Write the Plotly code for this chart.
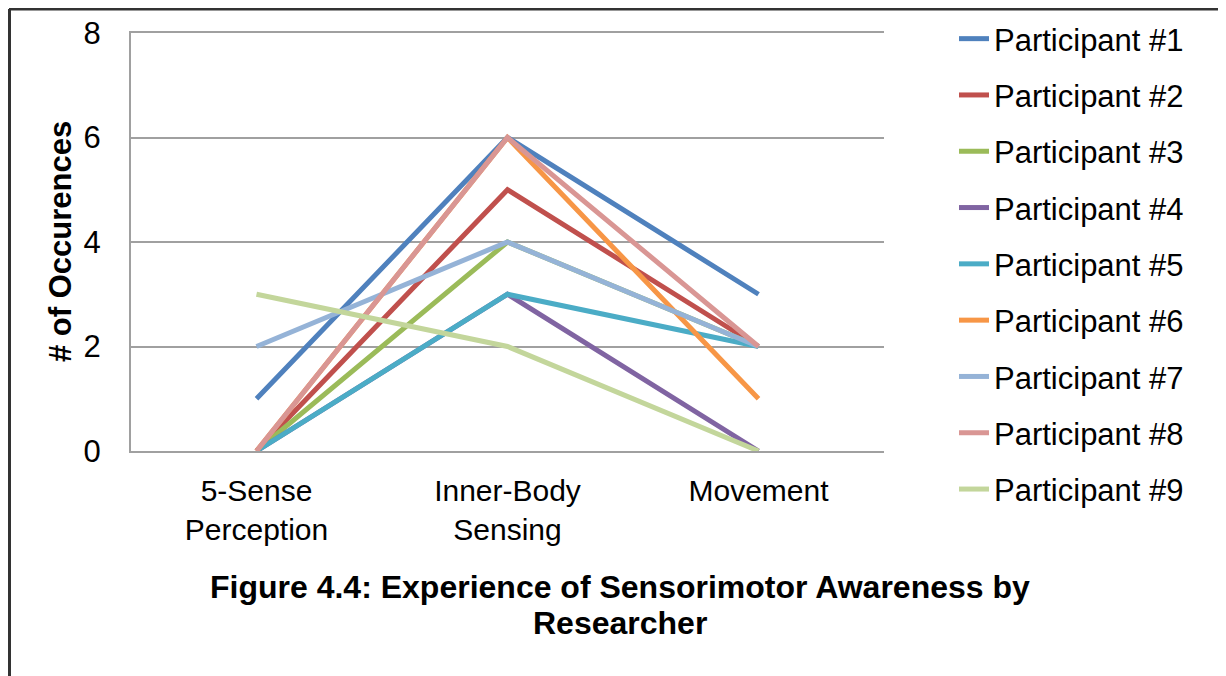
import plotly.graph_objects as go

categories = ["5-Sense<br>Perception", "Inner-Body<br>Sensing", "Movement"]
participants = [f"Participant #{i}" for i in range(1, 10)]

p1 = [1, 6, 3]
p2 = [0, 5, 2]
p3 = [0, 4, 2]
p4 = [0, 3, 0]
p5 = [0, 3, 2]
p6 = [0, 6, 1]
p7 = [2, 4, 2]
p8 = [0, 6, 2]
p9 = [3, 2, 0]
series = [p1, p2, p3, p4, p5, p6, p7, p8, p9]

colors = ["#4F81BD", "#C0504D", "#9BBB59", "#8064A2", "#4BACC6",
          "#F79646", "#95B3D7", "#D99694", "#C3D69B"]

FONT = "Liberation Sans, Arial, sans-serif"

# the page puts an 8px body margin round the figure; targets below are screen pixels
OFF = 8
W, H = 1226, 676
# plot area on screen
SL, SR, ST, SB = 131, 884, 33, 451
L, R, T, B = SL - OFF, SR - OFF, ST - OFF, SB - OFF


def px_x(x):
    return (x - OFF - L) / (R - L)


def px_y(y):
    return (B - (y - OFF)) / (B - T)


fig = go.Figure()
for name, vals, col in zip(participants, series, colors):
    fig.add_trace(go.Scatter(
        x=categories, y=vals, name=name, mode="lines",
        line=dict(color=col, width=5),
        legendgroup=name,
    ))

fig.update_layout(
    width=W, height=H,
    margin=dict(l=L, r=W - R, t=T, b=H - B, autoexpand=False),
    plot_bgcolor="white", paper_bgcolor="white",
    font=dict(family=FONT, size=31, color="black"),
    showlegend=True,
    legend=dict(
        x=px_x(954), y=px_y(12), xanchor="left", yanchor="top",
        font=dict(size=31), tracegroupgap=13, maxheight=640,
        bgcolor="rgba(0,0,0,0)",
    ),
)

fig.update_xaxes(
    type="category", range=[-0.5, 2.5],
    showgrid=False, zeroline=False,
    showline=True, mirror=True, linecolor="#A0A0A0", linewidth=2,
    ticks="", ticklabelstandoff=12,
    tickfont=dict(size=30),
)
fig.update_yaxes(
    range=[0, 8], dtick=2, showgrid=True, gridcolor="#A0A0A0", gridwidth=2,
    showline=True, linecolor="#A0A0A0", linewidth=2, zeroline=False,
    ticks="", ticklabelstandoff=22, tickfont=dict(size=31),
)

fig.add_annotation(
    text="<b># of Occurences</b>", textangle=-90,
    x=px_x(60), y=0.5, xref="paper", yref="paper",
    xanchor="center", yanchor="middle", showarrow=False,
    font=dict(size=31),
)
title_lines = ["Figure 4.4: Experience of Sensorimotor Awareness by", "Researcher"]
for line, yc in zip(title_lines, [587, 623]):
    fig.add_annotation(
        text=f"<b>{line}</b>",
        x=px_x(620), y=px_y(yc), xref="paper", yref="paper",
        xanchor="center", yanchor="middle", showarrow=False,
        font=dict(size=32),
    )

# outer frame: top and left edges
fig.add_shape(type="line", xref="paper", yref="paper",
              x0=px_x(9), x1=px_x(W + 20), y0=px_y(9), y1=px_y(9),
              line=dict(color="#333333", width=3))
fig.add_shape(type="line", xref="paper", yref="paper",
              x0=px_x(9.5), x1=px_x(9.5), y0=px_y(9), y1=px_y(H + 20),
              line=dict(color="#333333", width=3))

fig.write_html("out.html")
